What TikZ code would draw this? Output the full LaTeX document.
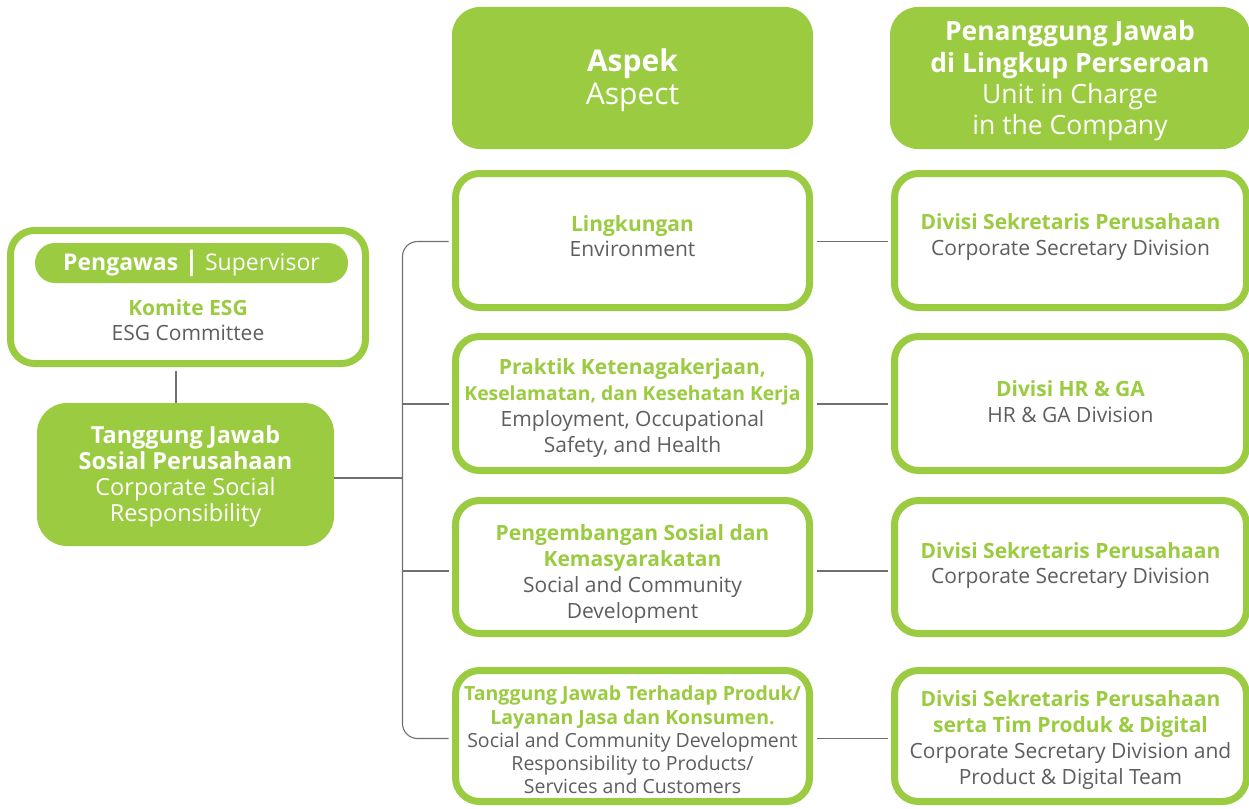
\documentclass[tikz,border=0pt]{standalone}
\usepackage{fontspec}
\setmainfont{Open Sans}
\definecolor{esg}{HTML}{9BCB40}
\definecolor{txtg}{HTML}{5E5E5E}
\definecolor{lineg}{HTML}{707070}
\newcommand\gb[1]{{\bfseries\color{esg}#1}}
\begin{document}
\begin{tikzpicture}[x=1pt,y=-1pt,
  hdr/.style={fill=esg, text=white, rounded corners=28pt, align=center, inner sep=0pt,
     font=\fontsize{26.5}{31.3}\selectfont},
  obox/.style={draw=esg, line width=7pt, fill=white, rounded corners=24pt, inner sep=0pt},
  btxt/.style={align=center, inner sep=0pt, text=txtg, font=\fontsize{21}{25.7}\selectfont},
  gbox/.style={fill=esg, rounded corners=30pt, inner sep=0pt},
  wtxt/.style={align=center, inner sep=0pt, text=white, font=\fontsize{23.5}{26}\selectfont},
  conn/.style={draw=lineg, line width=1.1pt},
  aw/.style={minimum width=354pt},
  rw/.style={minimum width=352pt}]
\useasboundingbox (0,0) rectangle (1249,808);

% headers
\node[hdr, minimum width=361pt, minimum height=142pt] (ha) at (632.5,78) {};
\node[wtxt, font=\fontsize{30}{33}\selectfont] (hat) at (632.5,80) {\textbf{Aspek}\\Aspect};
\node[hdr, minimum width=360pt, minimum height=142pt] (hr) at (1070,78) {};
\node[wtxt, font=\fontsize{26.5}{31.3}\selectfont] (hrt) at (1070,81)
  {\textbf{Penanggung Jawab}\\\textbf{di Lingkup Perseroan}\\Unit in Charge\\in the Company};

% aspect boxes
\node[obox, aw, minimum height=134pt] (a1) at (632.5,240.5) {};
\node[btxt] (a1t) at (632.5,236) {\gb{Lingkungan}\\Environment};
\node[obox, aw, minimum height=134pt] (a2) at (632.5,403.5) {};
\node[btxt] (a2t) at (632.5,408)
  {\gb{Praktik Ketenagakerjaan,}\\\gb{\fontsize{19.3}{25.7}\selectfont Keselamatan, dan Kesehatan Kerja}\\Employment, Occupational\\Safety, and Health};
\node[obox, aw, minimum height=133pt] (a3) at (632.5,567) {};
\node[btxt] (a3t) at (632.5,574)
  {\gb{Pengembangan Sosial dan}\\\gb{Kemasyarakatan}\\Social and Community\\Development};
\node[obox, aw, minimum height=131pt] (a4) at (632.5,736) {};
\node[btxt, font=\fontsize{19.5}{23.3}\selectfont] (a4t) at (632.5,740)
  {\gb{Tanggung Jawab Terhadap Produk/}\\\gb{Layanan Jasa dan Konsumen.}\\Social and Community Development\\Responsibility to Products/\\Services and Customers};

% unit boxes
\node[obox, rw, minimum height=134pt] (r1) at (1070.5,240.5) {};
\node[btxt] (r1t) at (1070.5,237) {\gb{Divisi Sekretaris Perusahaan}\\Corporate Secretary Division};
\node[obox, rw, minimum height=134pt] (r2) at (1070.5,403.5) {};
\node[btxt] (r2t) at (1070.5,401.5) {\gb{Divisi HR \& GA}\\HR \& GA Division};
\node[obox, rw, minimum height=133pt] (r3) at (1070.5,567) {};
\node[btxt] (r3t) at (1070.5,565.5) {\gb{Divisi Sekretaris Perusahaan}\\Corporate Secretary Division};
\node[obox, rw, minimum height=131pt] (r4) at (1070.5,736) {};
\node[btxt] (r4t) at (1070.5,740)
  {\gb{Divisi Sekretaris Perusahaan}\\\gb{serta Tim Produk \& Digital}\\Corporate Secretary Division and\\Product \& Digital Team};

% supervisor
\node[obox, minimum width=355pt, minimum height=133pt] (sup) at (188,297) {};
\node[fill=esg, rounded corners=20pt, minimum width=313pt, minimum height=40pt, inner sep=0pt,
  text=white, font=\fontsize{23}{26}\selectfont] (pill) at (191.5,263)
  {\textbf{Pengawas} {\fontsize{27}{26}\selectfont\textbf{|}} Supervisor};
\node[btxt] (supt) at (188,320) {\gb{Komite ESG}\\ESG Committee};

% CSR
\node[gbox, minimum width=297pt, minimum height=143pt] (csr) at (185.5,474.5) {};
\node[wtxt] (csrt) at (185.5,476.5)
  {\textbf{Tanggung Jawab}\\\textbf{Sosial Perusahaan}\\Corporate Social\\Responsibility};

% connectors
\coordinate (lx) at (176,0);
\coordinate (tt) at (402.5,241.5);
\coordinate (tb) at (402.5,738.5);
\coordinate (row2) at (0,404);
\coordinate (row3) at (0,571);
\coordinate (cj) at (0,478);
\draw[conn] (sup.south -| lx) ++(0,3.5) -- (csr.north -| lx);
\draw[conn] (csr.east |- cj) -- (tt |- cj);
\draw[conn, rounded corners=15pt] ([xshift=-3.5pt]a1.west |- tt) -- (tt) -- (tb) -- ([xshift=-3.5pt]a4.west |- tb);
\draw[conn] (tt |- row2) -- ([xshift=-3.5pt]a2.west |- row2);
\draw[conn] (tt |- row3) -- ([xshift=-3.5pt]a3.west |- row3);
\draw[conn] ([xshift=3.5pt]a1.east |- tt) -- ([xshift=-3.5pt]r1.west |- tt);
\draw[conn] ([xshift=3.5pt]a2.east |- row2) -- ([xshift=-3.5pt]r2.west |- row2);
\draw[conn] ([xshift=3.5pt]a3.east |- row3) -- ([xshift=-3.5pt]r3.west |- row3);
\draw[conn] ([xshift=3.5pt]a4.east |- tb) -- ([xshift=-3.5pt]r4.west |- tb);
\end{tikzpicture}
\end{document}
